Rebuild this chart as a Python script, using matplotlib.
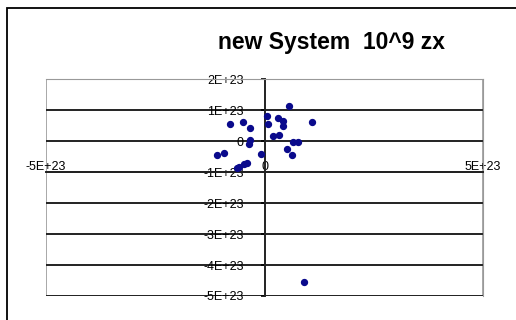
import matplotlib
matplotlib.use("Agg")
import matplotlib.pyplot as plt
from matplotlib.patches import Rectangle

plt.rcParams['font.family'] = ['Liberation Sans', 'DejaVu Sans']

# values, in units of 1E23
x_vals = [0.55, 0.05, 0.07, 0.32, 0.42, 0.43, 1.08, -0.80, -0.49, -0.33, -0.33, -0.35,
          0.19, 0.34, 0.66, 0.76, 0.52, 0.63, -0.93, -1.08, -0.09, -0.41, -0.47, -0.58,
          -0.62, 0.91]
y_vals = [1.13, 0.81, 0.55, 0.73, 0.66, 0.48, 0.60, 0.55, 0.62, 0.43, 0.03, -0.10,
          0.16, 0.19, -0.02, -0.02, -0.27, -0.45, -0.38, -0.45, -0.43, -0.72, -0.75, -0.83,
          -0.88, -4.54]
x_ticks = [-5e23, 0, 5e23]
x_labels = ['-5E+23', '0', '5E+23']
y_ticks = [2e23, 1e23, 0, -1e23, -2e23, -3e23, -4e23, -5e23]
y_labels = ['2E+23', '1E+23', '0', '-1E+23', '-2E+23', '-3E+23', '-4E+23', '-5E+23']
title = 'new System  10^9 zx'

fig = plt.figure(figsize=(5.16, 3.2), dpi=100)
fig.patches.append(Rectangle((7/516, -0.5), 2, 0.5 + 1 - 8/320, transform=fig.transFigure,
                             fill=False, edgecolor='black', lw=1.3))
fig.text(332/516, 1 - 42/320, title, ha='center', va='center', fontsize=16.5, fontweight='bold')

ax = fig.add_axes([46/516, 1 - 296/320, 437/516, 217/320])
ax.scatter([v * 1e23 for v in x_vals], [v * 1e23 for v in y_vals], s=18, color='#0a0a8c', zorder=3)

ax.set_xlim(-5e23, 5e23)
ax.set_ylim(-5e23, 2e23)
for y in y_ticks:
    ax.axhline(y, color='#222222', lw=1.4, zorder=1)

for s in ['top', 'right']:
    ax.spines[s].set_color('#999999')
ax.spines['bottom'].set_position(('data', -1e23))
ax.spines['bottom'].set_color('#222222')
ax.spines['bottom'].set_linewidth(1.4)
ax.spines['left'].set_position(('data', 0))
ax.spines['left'].set_color('#222222')
ax.spines['left'].set_linewidth(1.4)
ax.spines['left'].set_zorder(2)

ax.add_patch(Rectangle((0, 0), 1, 1, transform=ax.transAxes, fill=False,
                       edgecolor='#999999', lw=1.2, zorder=0))

ax.set_xticks(x_ticks)
ax.set_xticklabels(x_labels)
ax.set_yticks(y_ticks)
ax.set_yticklabels(y_labels)
ax.tick_params(axis='x', length=0, pad=-8, labelsize=9)
ax.tick_params(axis='y', length=3, width=1.2, pad=12, labelsize=9)

fig.savefig('out.png', dpi=100)
